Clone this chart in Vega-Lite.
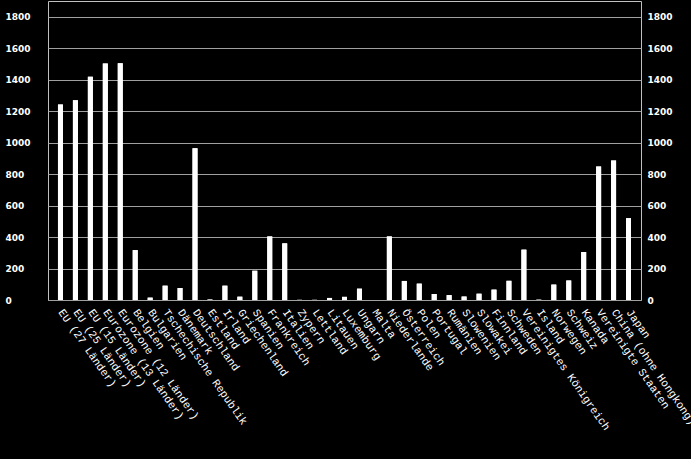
{
  "$schema": "https://vega.github.io/schema/vega-lite/v6.json",
  "width": 593,
  "height": 299,
  "autosize": {"type": "none"},
  "padding": {"left": 48, "top": 1, "right": 50, "bottom": 159},
  "background": "#000000",
  "data": {
    "values": [
      {"land": "EU (27 Länder)", "wert": 1242},
      {"land": "EU (25 Länder)", "wert": 1270},
      {"land": "EU (15 Länder)", "wert": 1418},
      {"land": "Eurozone (13 Länder)", "wert": 1503},
      {"land": "Eurozone (12 Länder)", "wert": 1505},
      {"land": "Belgien", "wert": 317},
      {"land": "Bulgarien", "wert": 15},
      {"land": "Tschechische Republik", "wert": 91},
      {"land": "Dänemark", "wert": 76},
      {"land": "Deutschland", "wert": 965},
      {"land": "Estland", "wert": 3},
      {"land": "Irland", "wert": 91},
      {"land": "Griechenland", "wert": 21},
      {"land": "Spanien", "wert": 186},
      {"land": "Frankreich", "wert": 404},
      {"land": "Italien", "wert": 360},
      {"land": "Zypern", "wert": 1},
      {"land": "Lettland", "wert": 1},
      {"land": "Litauen", "wert": 13},
      {"land": "Luxemburg", "wert": 20},
      {"land": "Ungarn", "wert": 72},
      {"land": "Malta", "wert": 0},
      {"land": "Niederlande", "wert": 404},
      {"land": "Österreich", "wert": 121},
      {"land": "Polen", "wert": 104},
      {"land": "Portugal", "wert": 38},
      {"land": "Rumänien", "wert": 31},
      {"land": "Slowenien", "wert": 22},
      {"land": "Slowakei", "wert": 40},
      {"land": "Finnland", "wert": 66},
      {"land": "Schweden", "wert": 122},
      {"land": "Vereinigtes Königreich", "wert": 320},
      {"land": "Island", "wert": 2},
      {"land": "Norwegen", "wert": 98},
      {"land": "Schweiz", "wert": 124},
      {"land": "Kanada", "wert": 305},
      {"land": "Vereinigte Staaten", "wert": 848},
      {"land": "China (ohne Hongkong)", "wert": 886},
      {"land": "Japan", "wert": 520}
    ]
  },
  "encoding": {
    "x": {
      "field": "land",
      "type": "nominal",
      "sort": null,
      "title": null,
      "scale": {"paddingInner": 0.667, "paddingOuter": 0.667},
      "axis": {
        "labelAngle": 55,
        "labelAlign": "left",
        "labelBaseline": "middle",
        "labelFont": "Liberation Mono",
        "labelFontSize": 11,
        "labelColor": "#ffffff",
        "labelPadding": 10,
        "labelLimit": 0,
        "ticks": false,
        "domain": false
      }
    }
  },
  "layer": [
    {
      "mark": {"type": "bar", "color": "#ffffff"},
      "encoding": {
        "y": {
          "field": "wert",
          "type": "quantitative",
          "title": null,
          "scale": {"domain": [0, 1900]},
          "axis": {
            "orient": "left",
            "values": [0, 200, 400, 600, 800, 1000, 1200, 1400, 1600, 1800],
            "grid": true,
            "gridColor": "#a0a0a0",
            "labelAlign": "left",
            "labelPadding": 43
          }
        }
      }
    },
    {
      "mark": {"type": "bar", "color": "#ffffff"},
      "encoding": {
        "y": {
          "field": "wert",
          "type": "quantitative",
          "title": null,
          "scale": {"domain": [0, 1900]},
          "axis": {
            "orient": "right",
            "values": [0, 200, 400, 600, 800, 1000, 1200, 1400, 1600, 1800],
            "grid": false,
            "labelAlign": "left",
            "labelPadding": 6
          }
        }
      }
    }
  ],
  "resolve": {"axis": {"y": "independent"}},
  "config": {
    "view": {"stroke": "#c0c0c0", "strokeWidth": 1},
    "axisY": {
      "ticks": false,
      "domain": false,
      "labelFont": "DejaVu Sans",
      "labelFontWeight": "bold",
      "labelFontSize": 9,
      "labelColor": "#ffffff",
      "format": "d"
    }
  }
}
